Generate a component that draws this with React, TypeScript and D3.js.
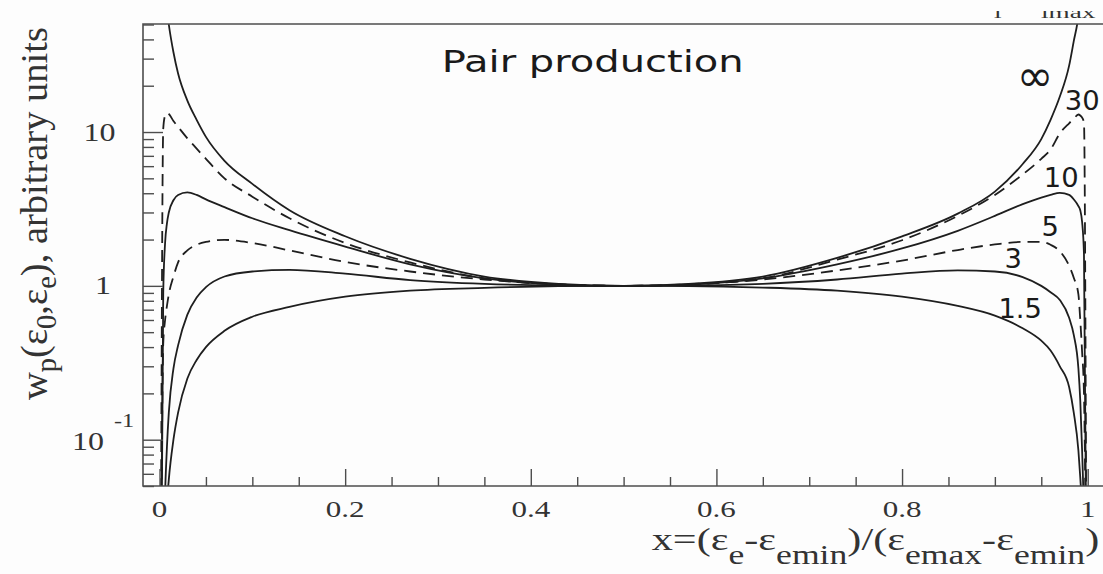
import { useEffect, useRef } from 'react';
import * as d3 from 'd3';

// x = (e_e - e_emin) / (e_emax - e_emin), sampled where the curves were read
const xs = [
  0.0015, 0.004, 0.006, 0.008, 0.01, 0.015, 0.02, 0.03, 0.04, 0.05, 0.07, 0.1, 0.14, 0.2, 0.27, 0.35, 0.43, 0.5,
  0.57, 0.65, 0.73, 0.8, 0.86, 0.9, 0.93, 0.95, 0.96, 0.97, 0.98, 0.985, 0.99, 0.992, 0.994, 0.996, 0.9985,
];

// photon energy of each curve (label) and its line style
const energies = ['∞', '30', '10', '5', '3', '1.5'];
const dashed = [false, true, false, true, false, false];

// w_p (arbitrary units)
const wInf = [
  400, 130, 85, 62, 50, 33, 24, 16, 12, 9.3, 6.5, 4.6, 3.1, 2.1, 1.5, 1.15, 1.03, 1,
  1.03, 1.15, 1.52, 2.1, 2.95, 4.1, 6.2, 9.0, 12, 17, 27, 39, 57, 75, 100, 150, 400,
];
const w30 = [
  0.02, 10.5, 12.8, 13.3, 13.1, 11.8, 10.8, 9.1, 7.8, 6.7, 5.0, 3.8, 2.75, 1.9, 1.42, 1.12, 1.025, 1,
  1.025, 1.12, 1.48, 1.98, 2.85, 3.9, 5.3, 6.7, 7.7, 9.8, 11.4, 12.2, 13.0, 12.8, 12.4, 11.5, 0.02,
];
const w10 = [
  0.005, 0.9, 1.9, 2.55, 3.0, 3.6, 3.9, 4.05, 3.9, 3.65, 3.25, 2.75, 2.3, 1.8, 1.38, 1.12, 1.02, 1,
  1.02, 1.12, 1.38, 1.75, 2.28, 2.85, 3.4, 3.75, 3.9, 4.02, 3.9, 3.65, 3.3, 3.1, 2.6, 1.6, 0.02,
];
const w5 = [
  0.01, 0.42, 0.6, 0.74, 0.88, 1.15, 1.42, 1.7, 1.85, 1.93, 1.99, 1.9, 1.7, 1.43, 1.24, 1.1, 1.02, 1,
  1.02, 1.1, 1.26, 1.46, 1.71, 1.86, 1.93, 1.93, 1.85, 1.68, 1.35, 1.13, 0.88, 0.6, 0.37, 0.2, 0.01,
];
const w3 = [
  0.0005, 0.015, 0.045, 0.09, 0.15, 0.29, 0.41, 0.65, 0.84, 0.98, 1.15, 1.24, 1.27, 1.2, 1.09, 1.03, 1.005, 1,
  1.005, 1.03, 1.1, 1.2, 1.26, 1.24, 1.14, 1.0, 0.91, 0.81, 0.62, 0.48, 0.29, 0.18, 0.085, 0.03, 0.002,
];
const w15 = [
  0.0002, 0.006, 0.02, 0.038, 0.055, 0.1, 0.15, 0.25, 0.33, 0.4, 0.51, 0.63, 0.73, 0.85, 0.93, 0.97, 0.995, 1,
  0.997, 0.975, 0.93, 0.85, 0.74, 0.64, 0.53, 0.44, 0.38, 0.3, 0.22, 0.15, 0.085, 0.057, 0.035, 0.018, 0.003,
];

// where the energy labels sit, in data units
const labelX = [0.9434, 0.9941, 0.9715, 0.9596, 0.9197, 0.9273];
const labelW = [22.5, 16.2, 5.11, 2.46, 1.52, 0.719];

const xTicks = [0, 0.2, 0.4, 0.6, 0.8, 1];
const xTickLabels = ['0', '0.2', '0.4', '0.6', '0.8', '1'];
const yMajor = [0.1, 1, 10];
const yTickBase = ['10', '1', '10'];
const yTickExp = ['-1', '', ''];

function App() {
  const svgRef = useRef<SVGSVGElement>(null);

  useEffect(() => {
    const width = 1103;
    const height = 574;
    const svg = d3.select(svgRef.current);
    svg.selectAll('*').remove();
    svg.attr('width', width).attr('height', height);

    const x = d3.scaleLinear().domain([-0.0178, 1.0165]).range([143, 1103]);
    const y = d3.scaleLog().domain([0.05, 50]).range([486, 24.5]);
    const axisColor = '#4d4d4d';
    const ink = '#1e1e1e';
    const serif = '"Liberation Serif", "Times New Roman", serif';
    const sans = '"DejaVu Sans", Verdana, sans-serif';

    const defs = svg.append('defs');
    defs.append('clipPath').attr('id', 'plot')
      .append('rect').attr('x', 143).attr('y', 24).attr('width', 960).attr('height', 462);
    defs.append('clipPath').attr('id', 'topcut')
      .append('rect').attr('x', 900).attr('y', 11).attr('width', 203).attr('height', 10);

    svg.append('rect').attr('width', width).attr('height', height).attr('fill', '#fdfdfd');

    // curves
    const series = [wInf, w30, w10, w5, w3, w15];
    const line = d3.line<number>()
      .x((_, i) => x(xs[i]))
      .y((d) => y(d))
      .curve(d3.curveMonotoneX);

    svg.append('g')
      .attr('clip-path', 'url(#plot)')
      .selectAll('path')
      .data(series)
      .join('path')
      .attr('d', (d) => line(d))
      .attr('fill', 'none')
      .attr('stroke', ink)
      .attr('stroke-width', 1.8)
      .attr('stroke-dasharray', (_, i) => (dashed[i] ? '12,7' : null));

    // ticks (pointing into the frame)
    const logTicks = y.ticks();
    const isDecade = (v: number) => Math.abs(Math.log10(v) - Math.round(Math.log10(v))) < 1e-6;
    const yAxisMinor = d3.axisLeft(y).tickValues(logTicks.filter((v) => !isDecade(v))).tickSize(-11).tickFormat(() => '');
    const yAxisMajor = d3.axisLeft(y).tickValues(yMajor).tickSize(-20).tickFormat(() => '');
    const xAll = x.ticks(20);
    const xAxisMinor = d3.axisBottom(x).tickValues(xAll.filter((v) => !xTicks.some((t) => Math.abs(t - v) < 1e-6))).tickSize(-9).tickFormat(() => '');
    const xAxisMajor = d3.axisBottom(x).tickValues(xTicks).tickSize(-17).tickFormat(() => '');

    [
      [yAxisMinor, 'translate(143,0)'],
      [yAxisMajor, 'translate(143,0)'],
      [xAxisMinor, 'translate(0,486)'],
      [xAxisMajor, 'translate(0,486)'],
    ].forEach(([ax, tr]: any) => {
      const g = svg.append('g').attr('transform', tr).call(ax);
      g.select('.domain').remove();
      g.selectAll('line').attr('stroke', axisColor).attr('stroke-width', 1.4);
    });

    // frame: top, left and bottom
    svg.append('path')
      .attr('d', 'M1103,24H143V486H1103')
      .attr('fill', 'none')
      .attr('stroke', axisColor)
      .attr('stroke-width', 1.6);

    // x tick labels
    xTicks.forEach((t, i) => {
      svg.append('g')
        .attr('transform', `translate(${x(t)},517) scale(1.35,1)`)
        .append('text')
        .attr('text-anchor', 'middle')
        .attr('font-family', serif)
        .attr('font-size', 23)
        .attr('fill', '#333')
        .text(xTickLabels[i]);
    });

    // y tick labels
    yMajor.forEach((v, i) => {
      const hasExp = yTickExp[i] !== '';
      const right = hasExp ? 104 : yTickBase[i].length > 1 ? 115.5 : 111;
      svg.append('g')
        .attr('transform', `translate(${right},${y(v) + (hasExp ? 10.5 : 8.5)}) scale(1.28,1)`)
        .append('text')
        .attr('text-anchor', 'end')
        .attr('font-family', serif)
        .attr('font-size', 25)
        .attr('fill', '#333')
        .text(yTickBase[i]);
      if (hasExp) {
        svg.append('g')
          .attr('transform', `translate(114,${y(v) - 12.5}) scale(1.28,1)`)
          .append('text')
          .attr('font-family', serif)
          .attr('font-size', 19)
          .attr('fill', '#333')
          .text(yTickExp[i]);
      }
    });

    // y axis title
    const yt = svg.append('text')
      .attr('transform', `translate(47,213.5) rotate(-90)`)
      .attr('text-anchor', 'middle')
      .attr('font-family', serif)
      .attr('font-size', 38.5)
      .attr('fill', '#333');
    const ySub = 9;
    yt.append('tspan').text('w');
    yt.append('tspan').attr('dy', ySub).attr('font-size', 28.5).text('p');
    yt.append('tspan').attr('dy', -ySub).text('(ε');
    yt.append('tspan').attr('dy', ySub).attr('font-size', 28.5).text('0');
    yt.append('tspan').attr('dy', -ySub).text(',ε');
    yt.append('tspan').attr('dy', ySub).attr('font-size', 28.5).text('e');
    yt.append('tspan').attr('dy', -ySub).text('), arbitrary units');

    // x axis title
    const xt = svg.append('g')
      .attr('transform', 'translate(651.7,550) scale(1.32,1)')
      .append('text')
      .attr('font-family', serif)
      .attr('font-size', 32)
      .attr('fill', '#333');
    const xSub = 14;
    const parts: [string, boolean][] = [
      ['x=(ε', false], ['e', true], ['-ε', false], ['emin', true], [')/(ε', false],
      ['emax', true], ['-ε', false], ['emin', true], [')', false],
    ];
    let shifted = false;
    parts.forEach(([s, sub]) => {
      const t = xt.append('tspan').text(s);
      if (sub && !shifted) { t.attr('dy', xSub); shifted = true; }
      else if (!sub && shifted) { t.attr('dy', -xSub); shifted = false; }
      if (sub) t.attr('font-size', 27);
    });

    // title inside the frame
    svg.append('text')
      .attr('x', 441.7)
      .attr('y', 71.7)
      .attr('font-family', sans)
      .attr('font-size', 31)
      .attr('textLength', 302)
      .attr('lengthAdjust', 'spacingAndGlyphs')
      .attr('fill', '#1a1a1a')
      .text('Pair production');

    // energy labels next to the curves
    energies.forEach((e, i) => {
      svg.append('text')
        .attr('x', x(labelX[i]))
        .attr('y', y(labelW[i]))
        .attr('dy', e === '∞' ? '0.3em' : '0.36em')
        .attr('text-anchor', 'middle')
        .attr('font-family', sans)
        .attr('font-size', e === '∞' ? 44 : 27.4)
        .attr('fill', '#1a1a1a')
        .text(e);
    });

    // lower edge of a label that the figure cuts off at its top
    const cut = svg.append('g').attr('clip-path', 'url(#topcut)');
    cut.append('g').attr('transform', 'translate(994,18) scale(1.6,1)')
      .append('text').attr('font-family', serif).attr('font-size', 17).attr('fill', '#333').text('i');
    const cutText = cut.append('g').attr('transform', 'translate(1041,18) scale(1.6,1)')
      .append('text').attr('font-family', serif).attr('font-size', 17).attr('fill', '#333');
    cutText.append('tspan').text('i');
    cutText.append('tspan').text('max');
  }, []);

  return (
    <svg
      ref={svgRef}
      width={1103}
      height={574}
      style={{ position: 'absolute', left: 0, top: 0, display: 'block' }}
    />
  );
}

export default App;
